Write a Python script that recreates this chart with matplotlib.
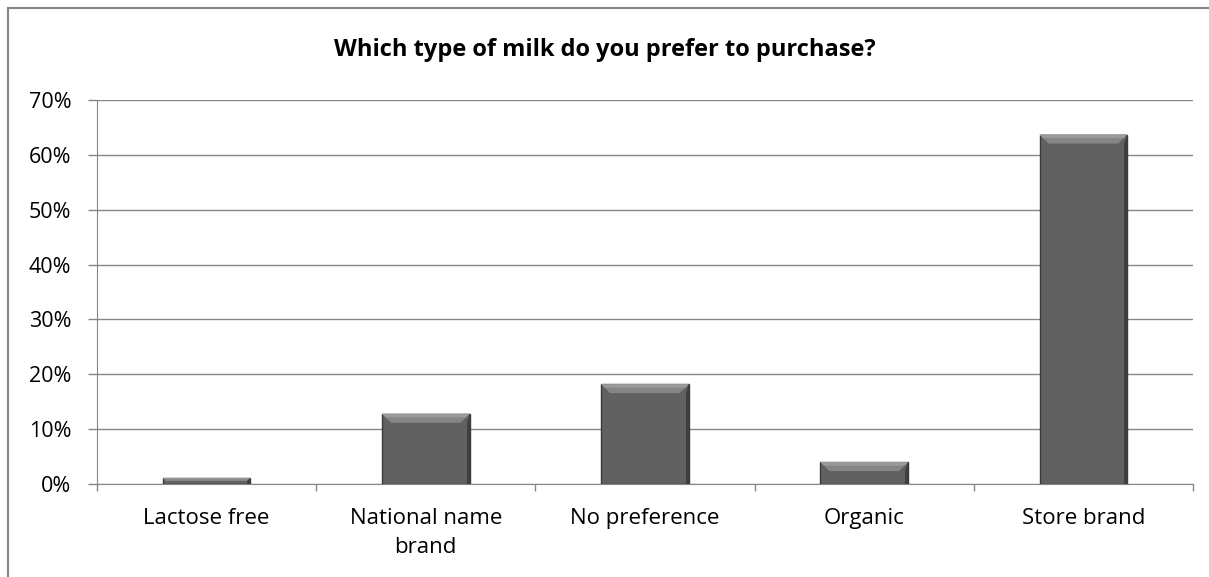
import matplotlib.pyplot as plt
from matplotlib.patches import Polygon
from matplotlib.ticker import FuncFormatter, MultipleLocator

categories = ["Lactose free", "National name\nbrand", "No preference", "Organic", "Store brand"]
shares = [1.1, 12.8, 18.2, 4.0, 63.7]  # percent of respondents

plt.rcParams['font.family'] = ['Open Sans', 'DejaVu Sans']

fig = plt.figure(figsize=(12.09, 5.77), dpi=100)
ax = fig.add_axes([97 / 1209, 1 - 484 / 577, 1096 / 1209, 384 / 577])

grid_col = "#868686"
xs = list(range(len(categories)))
bar_w = 0.4
bars = ax.bar(xs, shares, width=bar_w, color="#616161", edgecolor="#3a3a3a",
              linewidth=1.0, zorder=3)

ax.set_xlim(-0.5, len(categories) - 0.5)
ax.set_ylim(0, 70)

# bevel highlight along the top of each bar (about 9 px deep)
px_x = (len(categories)) / 1096
px_y = 70 / 384
bev_x, bev_y = 9 * px_x, 9 * px_y
for b in bars:
    x0, x1 = b.get_x(), b.get_x() + b.get_width()
    top = b.get_height()
    d = min(bev_y, top / 2)
    k = d / bev_y
    ax.add_patch(Polygon([(x0, top), (x1, top), (x1 - bev_x * k, top - d), (x0 + bev_x * k, top - d)],
                         closed=True, facecolor="#858585", edgecolor="none", zorder=4))
    ax.add_patch(Polygon([(x0, top), (x1, top), (x1 - bev_x * k * 0.4, top - d * 0.4),
                          (x0 + bev_x * k * 0.4, top - d * 0.4)],
                         closed=True, facecolor="#9a9a9a", edgecolor="none", zorder=4))
    # darker right edge
    ax.add_patch(Polygon([(x1, top), (x1, 0), (x1 - 3 * px_x, 0), (x1 - 3 * px_x, top - d)],
                         closed=True, facecolor="#3f3f3f", edgecolor="none", zorder=4))

ax.yaxis.set_major_locator(MultipleLocator(10))
ax.yaxis.set_major_formatter(FuncFormatter(lambda v, p: f"{v:.0f}%"))
ax.grid(axis="y", color=grid_col, linewidth=1.0, zorder=0)

ax.set_xticks(xs)
ax.set_xticklabels(categories, fontsize=16, color="black", linespacing=1.55)
ax.set_xticks([x + 0.5 for x in [-1] + xs], minor=True)
ax.tick_params(axis="x", which="major", length=0, pad=17)
ax.tick_params(axis="x", which="minor", length=5, color=grid_col, width=1)
ax.tick_params(axis="y", length=6.5, color=grid_col, width=1, labelsize=15.5, pad=12)

for s in ["top", "right"]:
    ax.spines[s].set_visible(False)
ax.spines["left"].set_color(grid_col)
ax.spines["bottom"].set_color(grid_col)

fig.suptitle("Which type of milk do you prefer to purchase?", fontsize=17,
             fontweight="bold", x=0.5, y=1 - 50 / 577, va="center")

# outer chart frame (only top and left edges fall inside the picture)
fig.add_artist(plt.Line2D([7.5 / 1209, 1], [1 - 7.5 / 577, 1 - 7.5 / 577], color="#868686", lw=1.5))
fig.add_artist(plt.Line2D([7.5 / 1209, 7.5 / 1209], [0, 1 - 7.5 / 577], color="#868686", lw=1.5))

fig.savefig("out.png", dpi=100, facecolor="white")
